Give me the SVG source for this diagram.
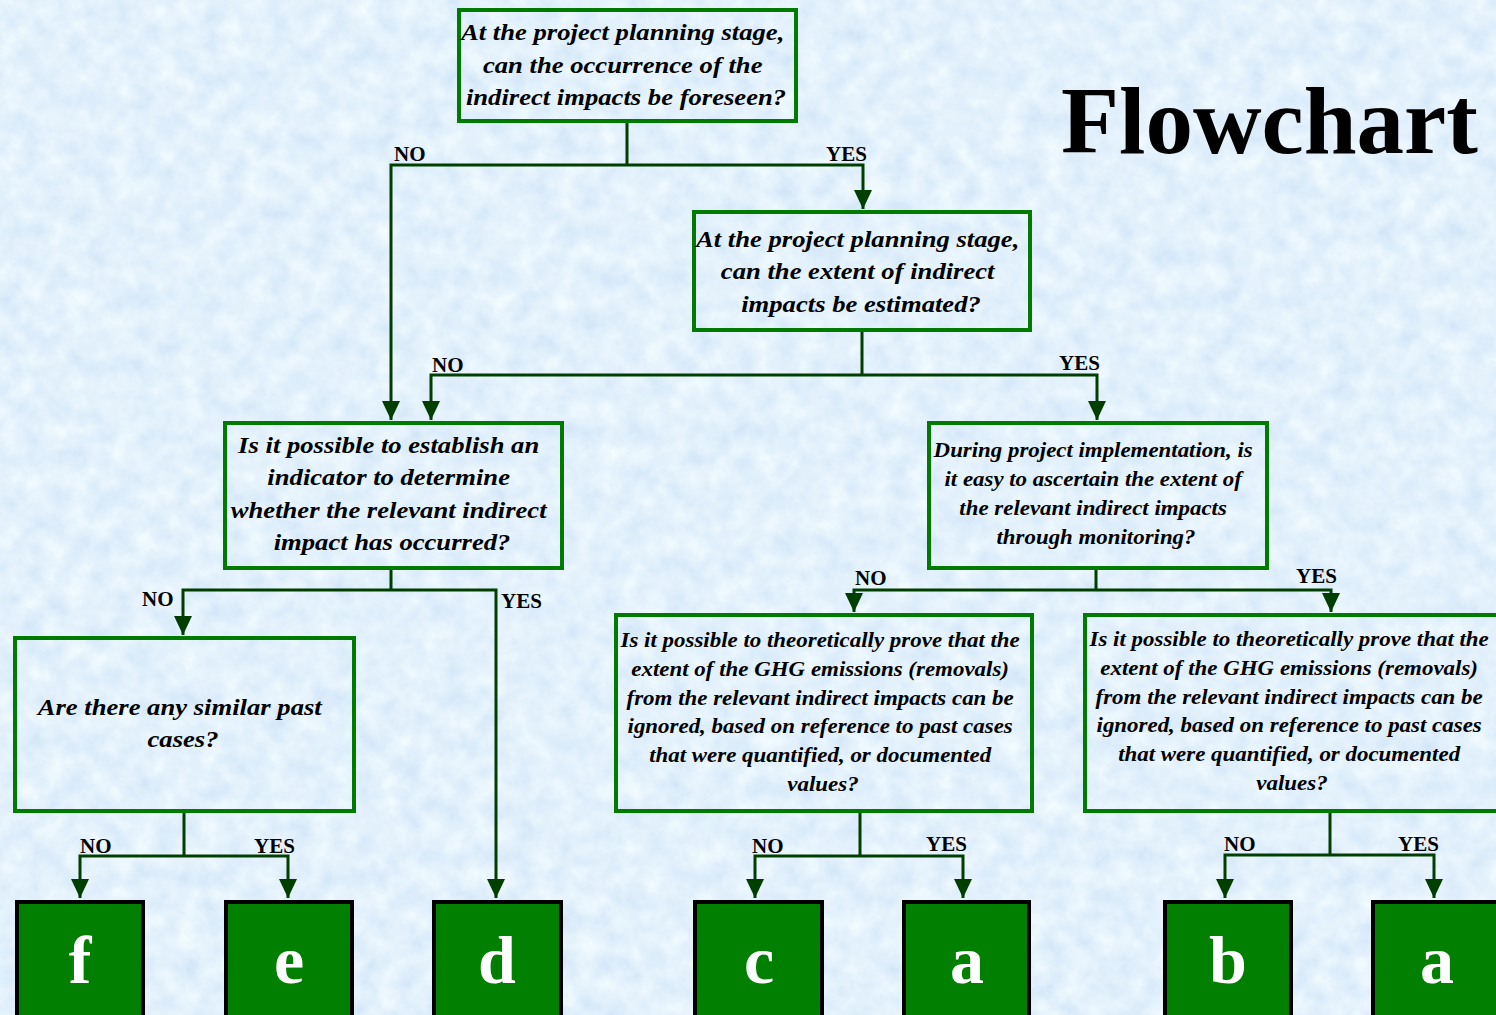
<svg xmlns="http://www.w3.org/2000/svg" width="1496" height="1015" viewBox="0 0 1496 1015">
  <defs>
    <filter id="paper" x="0" y="0" width="100%" height="100%">
      <feTurbulence type="fractalNoise" baseFrequency="0.045" numOctaves="4" seed="7" result="n"/>
      <feColorMatrix in="n" type="matrix" values="0.3 0 0 0 0.62  0.22 0 0 0 0.77  0.08 0 0 0 0.93  0 0 0 0 1"/>
    </filter>
    <marker id="arrow" viewBox="0 -10 20 20" refX="19" refY="0" markerWidth="20" markerHeight="20" markerUnits="userSpaceOnUse" orient="auto">
      <path d="M0,-9 L19,0 L0,9 z" fill="#003f00"/>
    </marker>
    <style>
      .q { fill: none; stroke: #007a00; stroke-width: 4; }
      .qt { font-weight: bold; font-style: italic; fill: #000; text-anchor: middle; }
      .lbl { font-weight: bold; font-size: 21px; fill: #000; }
      .term rect { fill: #007f00; stroke: #000; stroke-width: 4; }
      .term text { font-weight: bold; font-size: 68px; fill: #fff; text-anchor: middle; }
      .wire { fill: none; stroke: #003f00; stroke-width: 3; }
    </style>
  </defs>

  <!-- textured paper background -->
  <rect width="1496" height="1015" fill="#cfe3f8"/>
  <rect width="1496" height="1015" filter="url(#paper)"/>

  <g font-family="Liberation Serif, Times New Roman, serif">
  <text x="1061" y="153" font-weight="bold" font-size="95" fill="#000">Flowchart</text>

  <!-- connectors -->
  <g id="connectors">
    <path class="wire" d="M627,122 V165"/>
    <path class="wire" d="M627,165 H391 V420" marker-end="url(#arrow)"/>
    <path class="wire" d="M627,165 H863 V209" marker-end="url(#arrow)"/>

    <path class="wire" d="M862,331 V375"/>
    <path class="wire" d="M862,375 H431 V420" marker-end="url(#arrow)"/>
    <path class="wire" d="M862,375 H1097 V420" marker-end="url(#arrow)"/>

    <path class="wire" d="M391,569 V590"/>
    <path class="wire" d="M391,590 H183 V635" marker-end="url(#arrow)"/>
    <path class="wire" d="M391,590 H496 V898" marker-end="url(#arrow)"/>

    <path class="wire" d="M1096,569 V590"/>
    <path class="wire" d="M1096,590 H854 V612" marker-end="url(#arrow)"/>
    <path class="wire" d="M1096,590 H1331 V612" marker-end="url(#arrow)"/>

    <path class="wire" d="M184,812 V856"/>
    <path class="wire" d="M184,856 H80 V898" marker-end="url(#arrow)"/>
    <path class="wire" d="M184,856 H288 V898" marker-end="url(#arrow)"/>

    <path class="wire" d="M860,812 V856"/>
    <path class="wire" d="M860,856 H755 V898" marker-end="url(#arrow)"/>
    <path class="wire" d="M860,856 H963 V898" marker-end="url(#arrow)"/>

    <path class="wire" d="M1330,812 V855"/>
    <path class="wire" d="M1330,855 H1225 V898" marker-end="url(#arrow)"/>
    <path class="wire" d="M1330,855 H1434 V898" marker-end="url(#arrow)"/>

    <text class="lbl" x="394" y="161">NO</text>
    <text class="lbl" x="826" y="161">YES</text>
    <text class="lbl" x="432" y="372">NO</text>
    <text class="lbl" x="1059" y="370">YES</text>
    <text class="lbl" x="142" y="606">NO</text>
    <text class="lbl" x="501" y="608">YES</text>
    <text class="lbl" x="855" y="585">NO</text>
    <text class="lbl" x="1296" y="583">YES</text>
    <text class="lbl" x="80" y="853">NO</text>
    <text class="lbl" x="254" y="853">YES</text>
    <text class="lbl" x="752" y="853">NO</text>
    <text class="lbl" x="926" y="851">YES</text>
    <text class="lbl" x="1224" y="851">NO</text>
    <text class="lbl" x="1398" y="851">YES</text>
  </g>

  <!-- question nodes -->
  <g id="q-foreseen">
    <rect class="q" x="459" y="10" width="337" height="111"/>
    <text class="qt" font-size="24" transform="translate(626 0) scale(1.11 1)">
      <tspan x="0" y="40">At the project planning stage,</tspan>
      <tspan x="0" y="73">can the occurrence of the</tspan>
      <tspan x="0" y="105">indirect impacts be foreseen?</tspan>
    </text>
  </g>

  <g id="q-estimated">
    <rect class="q" x="694" y="212" width="336" height="118"/>
    <text class="qt" font-size="24" transform="translate(861 0) scale(1.11 1)">
      <tspan x="0" y="247">At the project planning stage,</tspan>
      <tspan x="0" y="279">can the extent of indirect</tspan>
      <tspan x="0" y="312">impacts be estimated?</tspan>
    </text>
  </g>

  <g id="q-indicator">
    <rect class="q" x="225" y="423" width="337" height="145"/>
    <text class="qt" font-size="24" transform="translate(392 0) scale(1.11 1)">
      <tspan x="0" y="453">Is it possible to establish an</tspan>
      <tspan x="0" y="485">indicator to determine</tspan>
      <tspan x="0" y="518">whether the relevant indirect</tspan>
      <tspan x="0" y="550">impact has occurred?</tspan>
    </text>
  </g>

  <g id="q-monitoring">
    <rect class="q" x="929" y="423" width="338" height="145"/>
    <text class="qt" font-size="21" transform="translate(1096 0) scale(1.09 1)">
      <tspan x="0" y="457">During project implementation, is</tspan>
      <tspan x="0" y="486">it easy to ascertain the extent of</tspan>
      <tspan x="0" y="515">the relevant indirect impacts</tspan>
      <tspan x="0" y="544">through monitoring?</tspan>
    </text>
  </g>

  <g id="q-past-cases">
    <rect class="q" x="15" y="638" width="339" height="173"/>
    <text class="qt" font-size="24" transform="translate(183 0) scale(1.11 1)">
      <tspan x="0" y="715">Are there any similar past</tspan>
      <tspan x="0" y="747">cases?</tspan>
    </text>
  </g>

  <g id="q-ignore-left">
    <rect class="q" x="616" y="615" width="416" height="196"/>
    <text class="qt" font-size="21.5" transform="translate(823 0) scale(1.067 1)">
      <tspan x="0" y="647">Is it possible to theoretically prove that the</tspan>
      <tspan x="0" y="676">extent of the GHG emissions (removals)</tspan>
      <tspan x="0" y="705">from the relevant indirect impacts can be</tspan>
      <tspan x="0" y="733">ignored, based on reference to past cases</tspan>
      <tspan x="0" y="762">that were quantified, or documented</tspan>
      <tspan x="0" y="791">values?</tspan>
    </text>
  </g>

  <g id="q-ignore-right">
    <rect class="q" x="1085" y="615" width="420" height="196"/>
    <text class="qt" font-size="21.5" transform="translate(1292 0) scale(1.067 1)">
      <tspan x="0" y="646">Is it possible to theoretically prove that the</tspan>
      <tspan x="0" y="675">extent of the GHG emissions (removals)</tspan>
      <tspan x="0" y="704">from the relevant indirect impacts can be</tspan>
      <tspan x="0" y="732">ignored, based on reference to past cases</tspan>
      <tspan x="0" y="761">that were quantified, or documented</tspan>
      <tspan x="0" y="790">values?</tspan>
    </text>
  </g>

  <!-- outcome nodes -->
  <g id="out-f" class="term"><rect x="17" y="902" width="126" height="130"/><text x="80" y="983">f</text></g>
  <g id="out-e" class="term"><rect x="226" y="902" width="126" height="130"/><text x="289" y="983">e</text></g>
  <g id="out-d" class="term"><rect x="434" y="902" width="127" height="130"/><text x="497" y="983">d</text></g>
  <g id="out-c" class="term"><rect x="695" y="902" width="127" height="130"/><text x="759" y="983">c</text></g>
  <g id="out-a1" class="term"><rect x="904" y="902" width="125" height="130"/><text x="967" y="983">a</text></g>
  <g id="out-b" class="term"><rect x="1165" y="902" width="126" height="130"/><text x="1228" y="983">b</text></g>
  <g id="out-a2" class="term"><rect x="1373" y="902" width="130" height="130"/><text x="1437" y="983">a</text></g>
  </g>
</svg>
